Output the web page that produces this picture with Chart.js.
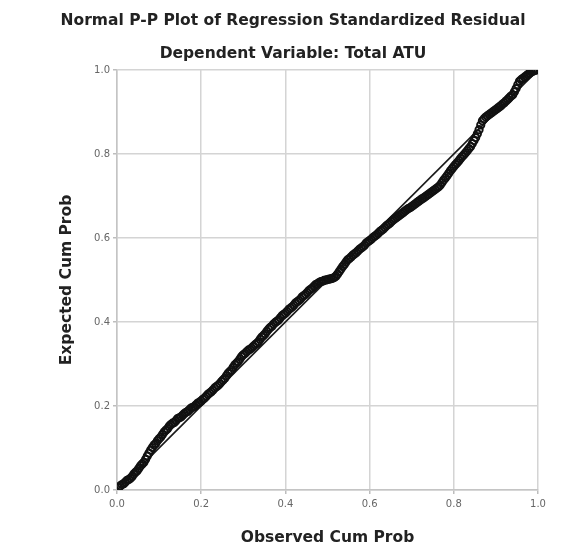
<!DOCTYPE html>
<html>
<head>
<meta charset="utf-8">
<script src="https://cdn.jsdelivr.net/npm/chart.js@4/dist/chart.umd.min.js"></script>
<style>
  html, body { margin: 0; padding: 0; background: #ffffff; }
  #wrap { width: 568px; height: 559px; }
</style>
</head>
<body>
<div id="wrap"><canvas id="c" width="568" height="559"></canvas></div>
<script>
const chartTitle = 'Normal P-P Plot of Regression Standardized Residual';
const chartSubtitle = 'Dependent Variable: Total ATU';
const xTitle = 'Observed Cum Prob';
const yTitle = 'Expected Cum Prob';
const tickValues = [0, 0.2, 0.4, 0.6, 0.8, 1.0];
const tickLabels = ['0.0', '0.2', '0.4', '0.6', '0.8', '1.0'];

const observedCumProbA = [
  0.004, 0.012, 0.020, 0.028, 0.036, 0.044, 0.052, 0.060, 0.068, 0.076,
  0.084, 0.092, 0.100, 0.108, 0.116, 0.124, 0.132, 0.140, 0.148, 0.156,
  0.164, 0.172, 0.180, 0.188, 0.196, 0.204, 0.212, 0.220, 0.228, 0.236,
  0.244, 0.252, 0.260, 0.268, 0.276, 0.284, 0.292, 0.300, 0.308, 0.316,
  0.324, 0.332, 0.340, 0.348, 0.356, 0.364, 0.372, 0.380, 0.388, 0.396,
  0.404, 0.412, 0.420, 0.428, 0.436, 0.444, 0.452, 0.460, 0.468, 0.476,
  0.484, 0.492, 0.500, 0.508, 0.516, 0.524, 0.532, 0.540, 0.548, 0.556,
  0.564, 0.572, 0.580, 0.588, 0.596, 0.604, 0.612, 0.620, 0.628, 0.636,
  0.644, 0.652, 0.660, 0.668, 0.676, 0.684, 0.692, 0.700, 0.708, 0.716,
  0.724, 0.732, 0.740, 0.748, 0.756, 0.764, 0.772, 0.780, 0.788, 0.796,
  0.804, 0.812, 0.820, 0.828, 0.836, 0.844, 0.852, 0.860, 0.868, 0.876,
  0.884, 0.892, 0.900, 0.908, 0.916, 0.924, 0.932, 0.940, 0.948, 0.956,
  0.964, 0.972, 0.980, 0.988, 0.996
];
const expectedCumProbA = [
  0.006, 0.013, 0.019, 0.025, 0.032, 0.042, 0.052, 0.062, 0.073, 0.088,
  0.101, 0.111, 0.122, 0.132, 0.142, 0.152, 0.159, 0.165, 0.172, 0.178,
  0.185, 0.191, 0.197, 0.203, 0.209, 0.216, 0.223, 0.231, 0.238, 0.246,
  0.253, 0.262, 0.272, 0.282, 0.292, 0.302, 0.312, 0.322, 0.329, 0.335,
  0.342, 0.349, 0.359, 0.368, 0.378, 0.387, 0.395, 0.402, 0.410, 0.418,
  0.425, 0.433, 0.440, 0.448, 0.455, 0.463, 0.470, 0.478, 0.485, 0.491,
  0.496, 0.499, 0.501, 0.503, 0.506, 0.514, 0.526, 0.537, 0.548, 0.555,
  0.562, 0.569, 0.576, 0.583, 0.591, 0.597, 0.604, 0.611, 0.618, 0.625,
  0.632, 0.639, 0.646, 0.652, 0.658, 0.664, 0.670, 0.675, 0.681, 0.687,
  0.693, 0.698, 0.704, 0.710, 0.716, 0.722, 0.732, 0.743, 0.754, 0.765,
  0.775, 0.784, 0.794, 0.803, 0.813, 0.825, 0.839, 0.858, 0.879, 0.888,
  0.894, 0.900, 0.906, 0.912, 0.919, 0.926, 0.934, 0.941, 0.956, 0.973,
  0.980, 0.986, 0.992, 0.997, 1.000
];
const observedCumProbB = [
  0.008, 0.016, 0.024, 0.032, 0.040, 0.048, 0.056, 0.064, 0.072, 0.080,
  0.088, 0.096, 0.104, 0.112, 0.120, 0.128, 0.136, 0.144, 0.152, 0.160,
  0.168, 0.176, 0.184, 0.192, 0.200, 0.208, 0.216, 0.224, 0.232, 0.240,
  0.248, 0.256, 0.264, 0.272, 0.280, 0.288, 0.296, 0.304, 0.312, 0.320,
  0.328, 0.336, 0.344, 0.352, 0.360, 0.368, 0.376, 0.384, 0.392, 0.400,
  0.408, 0.416, 0.424, 0.432, 0.440, 0.448, 0.456, 0.464, 0.472, 0.480,
  0.488, 0.496, 0.504, 0.512, 0.520, 0.528, 0.536, 0.544, 0.552, 0.560,
  0.568, 0.576, 0.584, 0.592, 0.600, 0.608, 0.616, 0.624, 0.632, 0.640,
  0.648, 0.656, 0.664, 0.672, 0.680, 0.688, 0.696, 0.704, 0.712, 0.720,
  0.728, 0.736, 0.744, 0.752, 0.760, 0.768, 0.776, 0.784, 0.792, 0.800,
  0.808, 0.816, 0.824, 0.832, 0.840, 0.848, 0.856, 0.864, 0.872, 0.880,
  0.888, 0.896, 0.904, 0.912, 0.920, 0.928, 0.936, 0.944, 0.952, 0.960,
  0.968, 0.976, 0.984, 0.992
];
const expectedCumProbB = [
  0.010, 0.015, 0.023, 0.028, 0.038, 0.046, 0.058, 0.066, 0.081, 0.095,
  0.107, 0.117, 0.126, 0.138, 0.146, 0.156, 0.161, 0.170, 0.174, 0.182,
  0.187, 0.195, 0.199, 0.207, 0.212, 0.219, 0.228, 0.234, 0.243, 0.249,
  0.258, 0.266, 0.278, 0.286, 0.298, 0.306, 0.318, 0.325, 0.333, 0.338,
  0.346, 0.353, 0.364, 0.372, 0.383, 0.390, 0.399, 0.405, 0.415, 0.421,
  0.430, 0.436, 0.445, 0.451, 0.460, 0.466, 0.475, 0.481, 0.489, 0.494,
  0.497, 0.500, 0.502, 0.504, 0.509, 0.520, 0.532, 0.543, 0.551, 0.559,
  0.565, 0.573, 0.579, 0.588, 0.594, 0.601, 0.607, 0.615, 0.621, 0.629,
  0.635, 0.643, 0.649, 0.655, 0.661, 0.667, 0.672, 0.678, 0.684, 0.690,
  0.695, 0.701, 0.707, 0.713, 0.719, 0.726, 0.738, 0.748, 0.760, 0.770,
  0.779, 0.789, 0.798, 0.808, 0.818, 0.832, 0.848, 0.869, 0.884, 0.891,
  0.897, 0.903, 0.909, 0.915, 0.922, 0.930, 0.938, 0.948, 0.965, 0.977,
  0.983, 0.989, 0.995, 0.999
];
const referenceX = [0, 1];
const referenceY = [0, 1];

const points = observedCumProbA.map((x, i) => ({ x: x, y: expectedCumProbA[i] }))
  .concat(observedCumProbB.map((x, i) => ({ x: x, y: expectedCumProbB[i] })));
const refLine = referenceX.map((x, i) => ({ x: x, y: referenceY[i] }));

const TITLE_FONT = 'bold 15.5px "DejaVu Sans"';

const titlePlugin = {
  id: 'ppTitles',
  afterDraw(chart) {
    const ctx = chart.ctx;
    ctx.save();
    ctx.fillStyle = '#222222';
    ctx.font = TITLE_FONT;
    ctx.textAlign = 'center';
    ctx.textBaseline = 'alphabetic';
    ctx.fillText(chartTitle, 293, 25);
    ctx.fillText(chartSubtitle, 293, 58);
    ctx.restore();
  }
};

function tickLabel(value) {
  for (let i = 0; i < tickValues.length; i++) {
    if (Math.abs(tickValues[i] - value) < 1e-6) return tickLabels[i];
  }
  return '';
}

const gridOpts = {
  color: '#d4d4d4',
  lineWidth: 1.5,
  drawTicks: true,
  tickLength: 4,
  tickColor: '#bdbdbd'
};

new Chart(document.getElementById('c'), {
  type: 'scatter',
  data: {
    datasets: [
      {
        type: 'line',
        data: refLine,
        borderColor: '#1a1a1a',
        borderWidth: 1.6,
        pointRadius: 0,
        fill: false,
        order: 2
      },
      {
        type: 'scatter',
        data: points,
        pointStyle: 'circle',
        pointRadius: 3.6,
        borderWidth: 2,
        borderColor: '#111111',
        backgroundColor: 'rgba(0,0,0,0)',
        order: 1
      }
    ]
  },
  options: {
    responsive: false,
    devicePixelRatio: 1,
    animation: false,
    events: [],
    layout: { padding: { left: 0, right: 30, top: 70, bottom: 0 } },
    plugins: {
      legend: { display: false },
      title: { display: false },
      tooltip: { enabled: false }
    },
    scales: {
      x: {
        type: 'linear',
        min: 0,
        max: 1,
        afterBuildTicks(scale) { scale.ticks = tickValues.map(v => ({ value: v })); },
        afterFit(scale) { scale.height = 69; },
        ticks: {
          padding: 4,
          color: '#666666',
          font: { family: 'DejaVu Sans', size: 10 },
          maxRotation: 0,
          callback: (v) => tickLabel(v)
        },
        grid: gridOpts,
        border: { color: '#c4c4c4', width: 1.5 },
        title: {
          display: true,
          text: xTitle,
          color: '#222222',
          font: { family: 'DejaVu Sans', size: 15.5, weight: 'bold' },
          padding: { top: 0, bottom: 12 }
        }
      },
      y: {
        type: 'linear',
        min: 0,
        max: 1,
        afterBuildTicks(scale) { scale.ticks = tickValues.map(v => ({ value: v })); },
        afterFit(scale) { scale.width = 117; },
        ticks: {
          padding: 3,
          color: '#666666',
          font: { family: 'DejaVu Sans', size: 10 },
          callback: (v) => tickLabel(v)
        },
        grid: gridOpts,
        border: { color: '#c4c4c4', width: 1.5 },
        title: {
          display: true,
          text: yTitle,
          color: '#222222',
          font: { family: 'DejaVu Sans', size: 15.5, weight: 'bold' },
          padding: { top: 58, bottom: 0 }
        }
      }
    }
  },
  plugins: [titlePlugin]
});
</script>
</body>
</html>
